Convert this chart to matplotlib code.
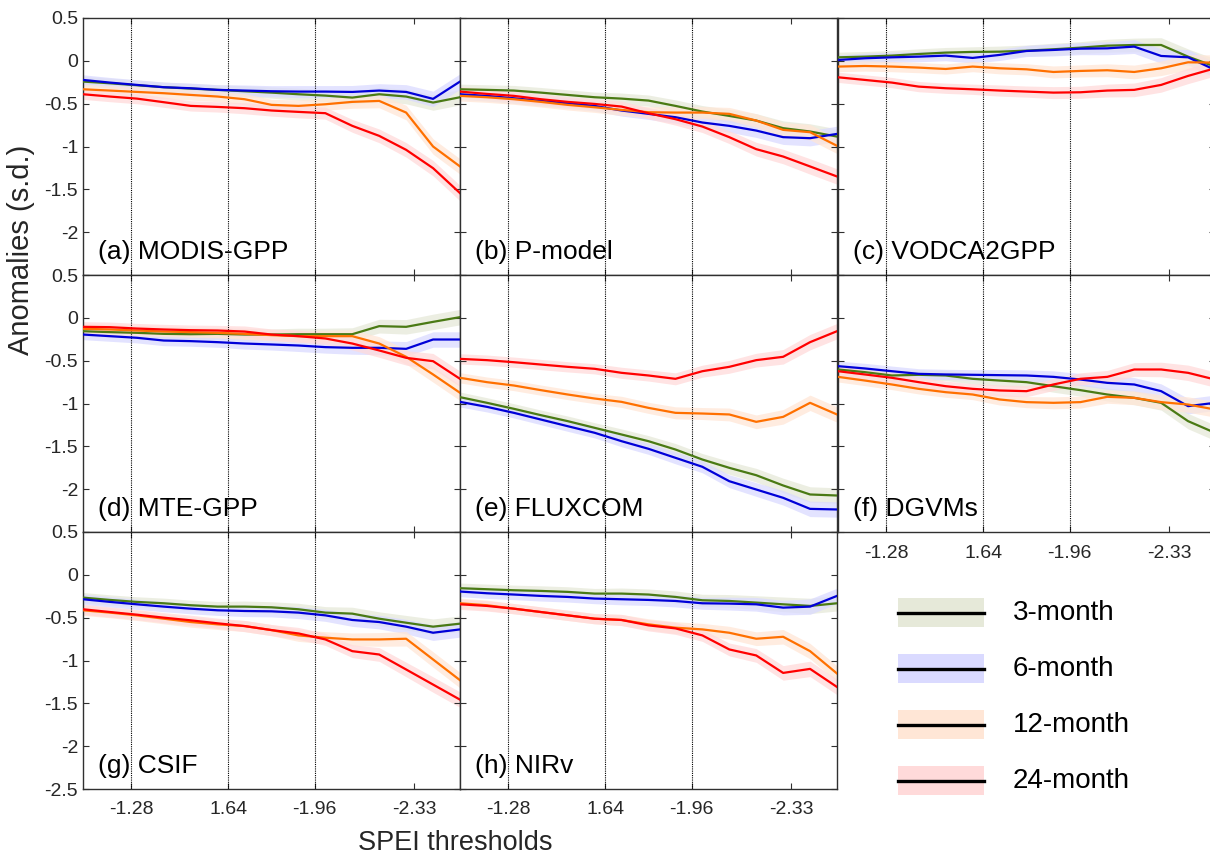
import matplotlib
matplotlib.use("Agg")
import matplotlib.pyplot as plt
from matplotlib.patches import Rectangle
import numpy as np

plt.rcParams['font.family'] = ['Liberation Sans', 'DejaVu Sans']
plt.rcParams['axes.unicode_minus'] = False

# SPEI thresholds (x values)
thresholds = [-1.1, -1.2, -1.3, -1.4, -1.5, -1.6, -1.7, -1.8, -1.9, -2.0, -2.1, -2.2, -2.3, -2.4, -2.5]
tick_pos = [-1.28, -1.64, -1.96, -2.33]
tick_labels = ['-1.28', '1.64', '-1.96', '-2.33']
dotted_pos = [-1.28, -1.64, -1.96]
ytick_pos = [0.5, 0, -0.5, -1, -1.5, -2, -2.5]
ytick_labels = ['0.5', '0', '-0.5', '-1', '-1.5', '-2', '-2.5']

periods = ['3-month', '6-month', '12-month', '24-month']
panel_titles = ['(a) MODIS-GPP', '(b) P-model', '(c) VODCA2GPP', '(d) MTE-GPP',
                '(e) FLUXCOM', '(f) DGVMs', '(g) CSIF', '(h) NIRv']

# uncertainty band half-width (s.d.)
band_hw = [0.06, 0.06, 0.06, 0.06, 0.06, 0.06, 0.065, 0.065, 0.07, 0.07, 0.075, 0.08, 0.085, 0.09, 0.09]

# (a) MODIS-GPP
a_3 = [-0.242, -0.262, -0.285, -0.308, -0.324, -0.339, -0.355, -0.371, -0.390, -0.406, -0.429, -0.390, -0.417, -0.487, -0.425]
a_6 = [-0.223, -0.254, -0.281, -0.308, -0.320, -0.339, -0.347, -0.355, -0.359, -0.359, -0.363, -0.347, -0.363, -0.444, -0.242]
a_12 = [-0.332, -0.347, -0.363, -0.378, -0.398, -0.417, -0.448, -0.514, -0.526, -0.507, -0.479, -0.468, -0.604, -1.000, -1.233]
a_24 = [-0.390, -0.417, -0.441, -0.483, -0.526, -0.538, -0.553, -0.580, -0.596, -0.611, -0.759, -0.876, -1.039, -1.253, -1.544]
# (b) P-model
b_3 = [-0.332, -0.339, -0.347, -0.371, -0.398, -0.425, -0.441, -0.464, -0.526, -0.592, -0.643, -0.697, -0.786, -0.825, -0.884]
b_6 = [-0.390, -0.409, -0.437, -0.468, -0.495, -0.526, -0.580, -0.619, -0.658, -0.720, -0.759, -0.814, -0.891, -0.903, -0.853]
b_12 = [-0.409, -0.425, -0.448, -0.479, -0.514, -0.542, -0.573, -0.600, -0.604, -0.604, -0.619, -0.697, -0.806, -0.833, -0.992]
b_24 = [-0.359, -0.386, -0.409, -0.448, -0.479, -0.503, -0.534, -0.612, -0.681, -0.767, -0.891, -1.031, -1.117, -1.233, -1.350]
# (c) VODCA2GPP
c_3 = [0.041, 0.049, 0.061, 0.080, 0.096, 0.104, 0.107, 0.119, 0.135, 0.154, 0.177, 0.185, 0.185, 0.049, -0.067]
c_6 = [0.010, 0.030, 0.041, 0.049, 0.061, 0.034, 0.069, 0.115, 0.127, 0.142, 0.146, 0.166, 0.057, 0.041, -0.106]
c_12 = [-0.067, -0.060, -0.067, -0.079, -0.095, -0.067, -0.087, -0.099, -0.130, -0.118, -0.110, -0.130, -0.087, -0.017, -0.021]
c_24 = [-0.192, -0.223, -0.254, -0.301, -0.320, -0.332, -0.347, -0.359, -0.371, -0.367, -0.347, -0.339, -0.281, -0.176, -0.087]
# (d) MTE-GPP
d_3 = [-0.156, -0.167, -0.175, -0.187, -0.191, -0.187, -0.195, -0.195, -0.191, -0.191, -0.191, -0.097, -0.105, -0.047, 0.008]
d_6 = [-0.195, -0.214, -0.233, -0.265, -0.272, -0.284, -0.300, -0.311, -0.323, -0.342, -0.350, -0.350, -0.362, -0.253, -0.253]
d_12 = [-0.128, -0.136, -0.148, -0.160, -0.167, -0.175, -0.187, -0.202, -0.214, -0.214, -0.214, -0.300, -0.455, -0.661, -0.875]
d_24 = [-0.105, -0.109, -0.125, -0.136, -0.144, -0.148, -0.160, -0.195, -0.214, -0.241, -0.300, -0.381, -0.467, -0.506, -0.712]
# (e) FLUXCOM
e_3 = [-0.926, -0.992, -1.062, -1.136, -1.206, -1.284, -1.362, -1.440, -1.537, -1.654, -1.751, -1.837, -1.957, -2.062, -2.074]
e_6 = [-0.981, -1.039, -1.109, -1.187, -1.265, -1.342, -1.440, -1.529, -1.634, -1.739, -1.907, -2.004, -2.101, -2.230, -2.237]
e_12 = [-0.700, -0.751, -0.790, -0.844, -0.895, -0.942, -0.981, -1.051, -1.109, -1.117, -1.128, -1.214, -1.156, -0.992, -1.128]
e_24 = [-0.479, -0.494, -0.518, -0.545, -0.572, -0.595, -0.642, -0.673, -0.712, -0.623, -0.572, -0.494, -0.455, -0.284, -0.156]
# (f) DGVMs
f_3 = [-0.603, -0.634, -0.673, -0.665, -0.673, -0.712, -0.732, -0.751, -0.798, -0.844, -0.895, -0.934, -0.992, -1.206, -1.342]
f_6 = [-0.564, -0.591, -0.623, -0.654, -0.661, -0.665, -0.669, -0.673, -0.689, -0.720, -0.759, -0.778, -0.856, -1.031, -0.992]
f_12 = [-0.689, -0.732, -0.778, -0.829, -0.868, -0.895, -0.953, -0.984, -0.992, -0.984, -0.922, -0.934, -0.984, -1.012, -1.070]
f_24 = [-0.623, -0.661, -0.700, -0.751, -0.798, -0.829, -0.848, -0.856, -0.778, -0.712, -0.689, -0.603, -0.603, -0.642, -0.720]
# (g) CSIF
g_3 = [-0.266, -0.293, -0.316, -0.332, -0.355, -0.371, -0.371, -0.379, -0.402, -0.441, -0.453, -0.512, -0.559, -0.605, -0.570]
g_6 = [-0.285, -0.316, -0.344, -0.371, -0.395, -0.414, -0.422, -0.426, -0.441, -0.473, -0.527, -0.551, -0.605, -0.676, -0.637]
g_12 = [-0.414, -0.441, -0.473, -0.512, -0.551, -0.578, -0.598, -0.645, -0.707, -0.734, -0.754, -0.754, -0.746, -0.988, -1.230]
g_24 = [-0.402, -0.434, -0.465, -0.500, -0.531, -0.566, -0.598, -0.645, -0.684, -0.754, -0.891, -0.930, -1.105, -1.281, -1.457]
# (h) NIRv
h_3 = [-0.156, -0.168, -0.180, -0.188, -0.199, -0.219, -0.219, -0.230, -0.258, -0.297, -0.305, -0.324, -0.344, -0.363, -0.332]
h_6 = [-0.195, -0.215, -0.230, -0.246, -0.258, -0.277, -0.285, -0.293, -0.305, -0.332, -0.336, -0.344, -0.383, -0.371, -0.246]
h_12 = [-0.332, -0.355, -0.395, -0.434, -0.473, -0.512, -0.527, -0.578, -0.617, -0.637, -0.676, -0.746, -0.723, -0.891, -1.152]
h_24 = [-0.344, -0.363, -0.395, -0.434, -0.473, -0.512, -0.527, -0.590, -0.625, -0.707, -0.871, -0.941, -1.145, -1.098, -1.309]

panels = [
    (a_3, a_6, a_12, a_24), (b_3, b_6, b_12, b_24), (c_3, c_6, c_12, c_24),
    (d_3, d_6, d_12, d_24), (e_3, e_6, e_12, e_24), (f_3, f_6, f_12, f_24),
    (g_3, g_6, g_12, g_24), (h_3, h_6, h_12, h_24),
]

line_colors = ['#4a7a14', '#0000d8', '#ff7000', '#ff0000']
band_colors = ['#e6e9d9', '#dadaff', '#ffe6d6', '#ffdada']

W, H = 1210, 860
fig = plt.figure(figsize=(W / 100, H / 100), dpi=100)

col_left = [83, 460, 838]
row_top = [18, 275, 532]
pw, ph = 377, 257
spine_col = '#303030'

x = np.array(thresholds)
hw = np.array(band_hw)

for i, series in enumerate(panels):
    r, c = divmod(i, 3)
    ax = fig.add_axes([col_left[c] / W, 1 - (row_top[r] + ph) / H, pw / W, ph / H])
    for k, ys in enumerate(series):
        ys = np.array(ys)
        ax.fill_between(x, ys - hw, ys + hw, color=band_colors[k], alpha=0.75, lw=0, zorder=1)
    for k, ys in enumerate(series):
        ax.plot(x, ys, color=line_colors[k], lw=1.6, zorder=3)
    for t in dotted_pos:
        ax.axvline(t, color='black', ls=(0, (1, 1)), lw=0.8, zorder=2)
    ax.set_xlim(-1.1, -2.5)
    ax.set_ylim(-2.5, 0.5)
    ax.set_xticks(tick_pos)
    ax.set_yticks(ytick_pos)
    ax.tick_params(direction='in', length=4, width=0.8, top=True, right=True,
                   colors=spine_col, labelcolor='#262626', labelsize=14)
    if c == 0:
        labs = list(ytick_labels)
        if r < 2:
            labs[-1] = ''
        ax.set_yticklabels(labs)
    else:
        ax.set_yticklabels([])
    if r == 2 or i == 5:
        ax.set_xticklabels(tick_labels)
        ax.tick_params(axis='x', pad=9)
    else:
        ax.set_xticklabels([])
    for s in ax.spines.values():
        s.set_color(spine_col)
        s.set_linewidth(1.0)
    ax.text(0.04, 0.09, panel_titles[i], transform=ax.transAxes, fontsize=19,
            va='center', ha='left', color='black', zorder=5)

# axis labels
fig.text(21 / W, 1 - 250 / H, 'Anomalies (s.d.)', rotation=90, fontsize=21,
         ha='center', va='center', color='#262626')
fig.text(455 / W, 1 - 843 / H, 'SPEI thresholds', fontsize=19.5,
         ha='center', va='center', color='#262626')

# legend (manual, band + black line)
lax = fig.add_axes([0, 0, 1, 1])
lax.set_xlim(0, W)
lax.set_ylim(H, 0)
lax.axis('off')
for k, lab in enumerate(periods):
    yc = 612.7 + 56 * k
    lax.add_patch(Rectangle((898, yc - 14.5), 86, 29, facecolor=band_colors[k], edgecolor='none'))
    lax.plot([898, 984], [yc, yc], color='black', lw=2.4)
    lax.text(1013, yc, lab, fontsize=20, va='center', ha='left', color='black')

fig.savefig('out.png', dpi=100)
